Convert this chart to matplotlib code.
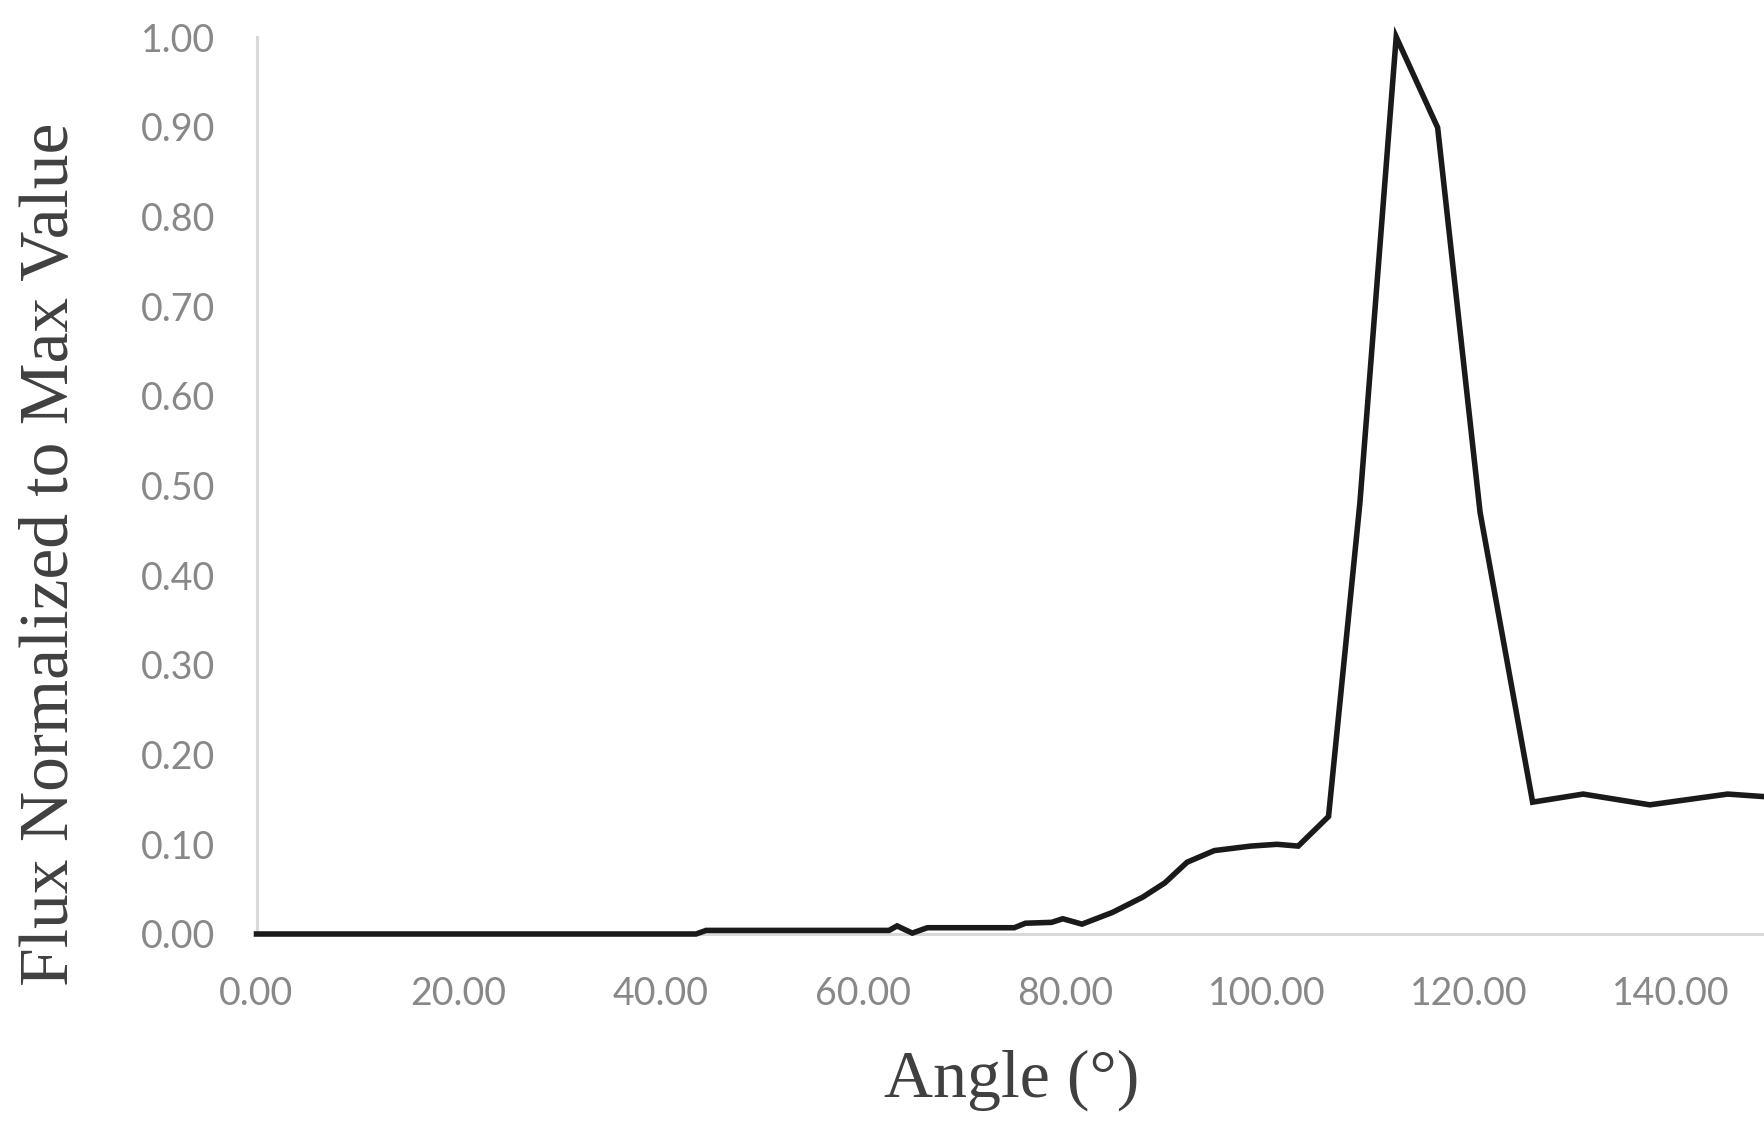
import matplotlib
matplotlib.use("Agg")
import matplotlib.pyplot as plt

# Data
angle = [0, 43.5, 44.5, 62.6, 63.4, 64.9, 66.4, 75.0, 76.1, 78.7, 79.8, 81.7,
         84.7, 87.7, 89.9, 92.1, 94.8, 98.4, 101.0, 103.1, 106.1, 109.2,
         112.8, 116.9, 121.1, 126.3, 131.3, 137.9, 145.6, 149.4]
flux = [0, 0, 0.004, 0.004, 0.009, 0.001, 0.007, 0.007, 0.012, 0.013, 0.017, 0.011,
        0.024, 0.041, 0.057, 0.080, 0.093, 0.098, 0.100, 0.098, 0.131, 0.48,
        1.00, 0.899, 0.47, 0.147, 0.156, 0.144, 0.156, 0.153]
x_ticks = [0, 20, 40, 60, 80, 100, 120, 140]
y_ticks = [0.0, 0.1, 0.2, 0.3, 0.4, 0.5, 0.6, 0.7, 0.8, 0.9, 1.0]
x_label = "Angle (°)"
y_label = "Flux Normalized to Max Value"

W, H = 1764, 1127
fig = plt.figure(figsize=(W / 100, H / 100), dpi=100)
left, right, bottom, top = 256.5, 1764, 934, 37
ax = fig.add_axes([left / W, 1 - bottom / H, (right - left) / W, (bottom - top) / H])

ax.plot(angle, flux, color="#1a1a1a", linewidth=4.0, solid_joinstyle="miter",
        clip_on=False, zorder=3)
ax.set_xlim(0, 149.2)
ax.set_ylim(0, 1.0)

ax.set_xticks(x_ticks)
ax.set_xticklabels([f"{v:.2f}" for v in x_ticks])
ax.set_yticks(y_ticks)
ax.set_yticklabels([f"{v:.2f}" for v in y_ticks])
ax.tick_params(axis="both", length=0, labelsize=27, labelcolor="#888888")
ax.tick_params(axis="x", pad=30)
ax.tick_params(axis="y", pad=30)
for lbl in ax.get_xticklabels() + ax.get_yticklabels():
    lbl.set_family("Lato")

for s in ["top", "right"]:
    ax.spines[s].set_visible(False)
for s in ["left", "bottom"]:
    ax.spines[s].set_color("#d9d9d9")
    ax.spines[s].set_linewidth(2.2)

fig.text(51 / W, 1 - 554 / H, y_label, rotation=90, ha="center", va="center",
         fontsize=50, family="Liberation Serif", color="#404040")
fig.text(1012 / W, 1 - 1080 / H, x_label, ha="center", va="center",
         fontsize=49, family="Liberation Serif", color="#404040")

fig.savefig("out.png", dpi=100, facecolor="white")
